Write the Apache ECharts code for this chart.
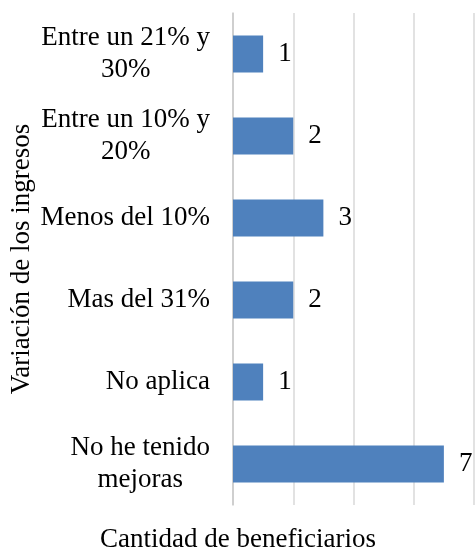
<!DOCTYPE html>
<html>
<head>
<meta charset="utf-8">
<script src="https://cdn.jsdelivr.net/npm/echarts@6/dist/echarts.min.js"></script>
<style>
  html, body { margin: 0; padding: 0; background: #fff; }
  #chart { width: 476px; height: 550px; }
</style>
</head>
<body>
<div id="chart"></div>
<script>
// categories listed bottom to top, as the y axis draws them
const categories = [
    'No he tenido\nmejoras',
    'No aplica',
    'Mas del 31%',
    'Menos del 10%',
    'Entre un 10% y\n20%',
    'Entre un 21% y\n30%'
];
const beneficiarios = [7, 1, 2, 3, 2, 1];
const xTitle = 'Cantidad de beneficiarios';
const yTitle = 'Variación de los ingresos';

const fontFamily = '"Liberation Serif", "Times New Roman", serif';

const chart = echarts.init(document.getElementById('chart'));

const option = {
    backgroundColor: '#ffffff',
    animation: false,
    textStyle: { fontFamily: fontFamily },
    title: {
        text: xTitle,
        left: 'center',
        top: 521,
        textStyle: { fontFamily: fontFamily, fontSize: 27, fontWeight: 'normal', color: '#000' }
    },
    graphic: [{
        type: 'text',
        x: 22,
        y: 259,
        rotation: Math.PI / 2,
        style: {
            text: yTitle,
            fontFamily: fontFamily,
            fontSize: 27,
            fill: '#000',
            align: 'center',
            verticalAlign: 'middle'
        }
    }],
    grid: { left: 233, right: 2, top: 13, bottom: 45, outerBoundsMode: 'none', containLabel: false },
    xAxis: {
        type: 'value',
        min: 0,
        max: 8,
        interval: 2,
        axisLine: { show: false },
        axisTick: { show: false },
        axisLabel: { show: false },
        splitLine: { lineStyle: { color: '#d9d9d9', width: 1.5 } }
    },
    yAxis: {
        type: 'category',
        data: categories,
        axisLine: { lineStyle: { color: '#c8c8c8', width: 1.5 } },
        axisTick: { length: 7, lineStyle: { color: '#c8c8c8', width: 1.5 } },
        axisLabel: {
            margin: 23,
            color: '#000',
            formatter: function (value) {
                return value.split('\n').map(line => '{c|' + line + '}').join('\n');
            },
            rich: {
                c: { align: 'center', fontFamily: fontFamily, fontSize: 27, lineHeight: 32, color: '#000' }
            }
        }
    },
    series: [{
        type: 'bar',
        data: beneficiarios,
        barWidth: '45%',
        itemStyle: { color: '#4f81bd' },
        label: {
            show: true,
            position: 'right',
            distance: 15,
            fontFamily: fontFamily,
            fontSize: 27,
            color: '#000'
        }
    }]
};

chart.setOption(option);
window.addEventListener('resize', () => chart.resize());
</script>
</body>
</html>
